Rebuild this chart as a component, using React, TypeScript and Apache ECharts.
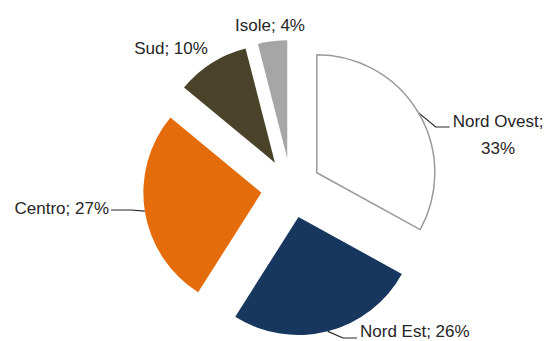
import React, { useEffect, useRef } from "react";
import * as echarts from "echarts";

const categories = ["Nord Ovest", "Nord Est", "Centro", "Sud", "Isole"];
const values = [33, 26, 27, 10, 4];
const colors = ["#ffffff", "#17375e", "#e46c0a", "#4a4229", "#a6a6a6"];
const borderColors = ["#9a9a9a", "#17375e", "#e46c0a", "#4a4229", "#a6a6a6"];
const showLines = [true, true, true, false, false];
// label placement (layout only)
const labelPos: { x: number; y: number; align: string; lineY: number }[] = [
  { x: 498, y: 135, align: "center", lineY: 127 },
  { x: 360, y: 331, align: "left", lineY: 338 },
  { x: 109, y: 208, align: "right", lineY: 210 },
  { x: 171, y: 48, align: "center", lineY: 48 },
  { x: 270, y: 25, align: "center", lineY: 25 },
];

const CX = 291;
const CY = 188;
const R = 118;
const EXPLODE = 30;

export default function App() {
  const ref = useRef<HTMLDivElement>(null);
  useEffect(() => {
    if (!ref.current) return;
    const chart = echarts.init(ref.current, null, { renderer: "svg" });
    const total = values.reduce((a, b) => a + b, 0);
    let cum = 0;
    const series: any[] = values.map((v, i) => {
      const mid = (2 * Math.PI * (cum + v / 2)) / total;
      cum += v;
      const dx = Math.sin(mid);
      const dy = -Math.cos(mid);
      const cx = CX + EXPLODE * dx;
      const cy = CY + EXPLODE * dy;
      const start = [cx + R * dx, cy + R * dy];
      const lp = labelPos[i];
      return {
        type: "pie",
        center: [cx, cy],
        radius: [0, R],
        startAngle: 90,
        clockwise: true,
        avoidLabelOverlap: false,
        silent: true,
        emphasis: { disabled: true },
        label: {
          show: false,
          position: "outside",
          fontFamily: "Liberation Sans, Arial, sans-serif",
          fontSize: 17,
          color: "#262626",
          lineHeight: 27,
        },
        labelLine: {
          show: false,
          lineStyle: { color: "#262626", width: 1.2 },
        },
        labelLayout: (params: any) => {
          const w = params.labelRect ? params.labelRect.width : 80;
          let pts: number[][] | undefined;
          if (showLines[i]) {
            if (lp.align === "right") {
              const ex = lp.x + 2;
              pts = [start, [ex + 20, lp.lineY], [ex, lp.lineY]];
            } else {
              const left = lp.align === "center" ? lp.x - w / 2 : lp.x;
              const ex = left - 3;
              pts = [start, [ex - 14, lp.lineY], [ex, lp.lineY]];
            }
          }
          return {
            x: lp.x,
            y: lp.y,
            align: lp.align,
            verticalAlign: "middle",
            labelLinePoints: pts,
          };
        },
        data: categories.map((name, j) => ({
          name,
          value: values[j],
          itemStyle:
            j === i
              ? {
                  color: colors[j],
                  borderColor: borderColors[j],
                  borderWidth: j === 0 ? 1.5 : 0,
                }
              : { color: "rgba(0,0,0,0)", borderWidth: 0 },
          label: {
            show: j === i,
            formatter: j === 0 ? "{b};\n{c}%" : "{b}; {c}%",
          },
          labelLine: { show: j === i && showLines[j] },
        })),
      };
    });
    chart.setOption({
      animation: false,
      backgroundColor: "#ffffff",
      series,
    });
    return () => chart.dispose();
  }, []);
  return (
    <div
      ref={ref}
      style={{ position: "fixed", left: 0, top: 0, width: 545, height: 341 }}
    />
  );
}
